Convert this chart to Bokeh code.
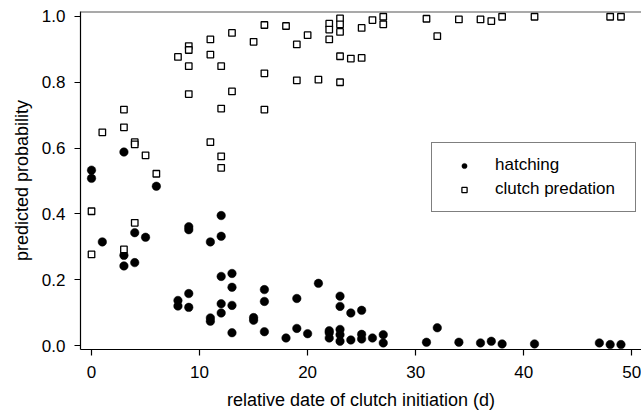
from bokeh.plotting import figure
from bokeh.models import Range1d, Span, Legend, LegendItem, FixedTicker
from bokeh.embed import file_html
from bokeh.resources import INLINE

# hatching (filled circles)
hatch_x = [0, 0, 1, 3, 3, 3, 4, 4, 5, 6,
           8, 8, 9, 9, 9, 9,
           11, 11, 11, 12, 12, 12, 12, 12,
           13, 13, 13, 13,
           15, 15, 16, 16, 16,
           18, 19, 19, 20, 21,
           22, 22, 22,
           23, 23, 23, 23, 23,
           24, 24, 25, 25, 25, 26, 27, 27,
           31, 32, 34, 36, 37, 38, 41, 47, 48, 49]
hatch_y = [0.533, 0.508, 0.315, 0.588, 0.274, 0.242, 0.343, 0.252, 0.329, 0.484,
           0.137, 0.120, 0.361, 0.352, 0.158, 0.116,
           0.315, 0.084, 0.074, 0.395, 0.332, 0.210, 0.127, 0.099,
           0.219, 0.177, 0.122, 0.039,
           0.085, 0.077, 0.170, 0.134, 0.042,
           0.023, 0.143, 0.052, 0.036, 0.189,
           0.045, 0.039, 0.023,
           0.150, 0.119, 0.049, 0.033, 0.013,
           0.099, 0.017, 0.107, 0.034, 0.020, 0.023, 0.033, 0.008,
           0.010, 0.054, 0.010, 0.008, 0.013, 0.005, 0.005, 0.008, 0.003, 0.003]

# clutch predation (open squares)
pred_x = [0, 0, 1, 3, 3, 3, 4, 4, 4, 5, 6,
          8, 9, 9, 9, 9,
          11, 11, 11, 12, 12, 12, 12,
          13, 13, 15, 16, 16, 16,
          18, 19, 19, 20, 21,
          22, 22, 22,
          23, 23, 23, 23, 23,
          24, 25, 25, 26, 27, 27,
          31, 32, 34, 36, 37, 38, 41, 48, 49]
pred_y = [0.408, 0.277, 0.648, 0.717, 0.663, 0.292, 0.618, 0.611, 0.373, 0.578, 0.522,
          0.877, 0.910, 0.898, 0.849, 0.764,
          0.930, 0.884, 0.618, 0.849, 0.720, 0.575, 0.540,
          0.950, 0.772, 0.923, 0.974, 0.827, 0.717,
          0.971, 0.915, 0.806, 0.943, 0.808,
          0.978, 0.960, 0.930,
          0.994, 0.976, 0.953, 0.879, 0.800,
          0.872, 0.965, 0.874, 0.989, 0.999, 0.976,
          0.993, 0.940, 0.991, 0.991, 0.986, 0.999, 0.999, 0.999, 0.999]

x_ticks = [0, 10, 20, 30, 40, 50]
y_ticks = [0.0, 0.2, 0.4, 0.6, 0.8, 1.0]
y_tick_labels = {0.0: "0.0", 0.2: "0.2", 0.4: "0.4", 0.6: "0.6", 0.8: "0.8", 1.0: "1.0"}

FONT = "Liberation Sans"

p = figure(width=641, height=412, output_backend="svg", toolbar_location=None,
           x_range=Range1d(-1.02, 50.9), y_range=Range1d(-0.012, 1.015),
           min_border_left=80, min_border_right=0, min_border_top=11, min_border_bottom=62)

p.grid.visible = False
p.outline_line_color = None
p.background_fill_color = "white"
p.border_fill_color = "white"

for ax in (p.xaxis[0], p.yaxis[0]):
    ax.axis_line_color = "black"
    ax.axis_line_width = 1.2
    ax.major_tick_line_color = "black"
    ax.major_tick_line_width = 1.2
    ax.major_tick_out = 6
    ax.major_tick_in = 0
    ax.minor_tick_line_color = None
    ax.major_label_text_font = FONT
    ax.major_label_text_font_size = "17px"
    ax.major_label_text_color = "black"
    ax.axis_label_text_font = FONT
    ax.axis_label_text_font_size = "18px"
    ax.axis_label_text_font_style = "normal"
    ax.axis_label_text_color = "black"

p.xaxis.ticker = FixedTicker(ticks=x_ticks)
p.yaxis.ticker = FixedTicker(ticks=y_ticks)
p.yaxis.major_label_overrides = y_tick_labels
p.xaxis.axis_label = "relative date of clutch initiation (d)"
p.yaxis.axis_label = "predicted probability"
p.xaxis.major_label_standoff = 10
p.xaxis.axis_label_standoff = 9
p.yaxis.major_label_standoff = 9
p.yaxis.axis_label_standoff = 7

top_line = Span(location=p.y_range.end, dimension="width", line_color="#555555", line_width=2)
p.add_layout(top_line)

r_h = p.scatter(hatch_x, hatch_y, marker="circle", size=8.5,
                fill_color="black", line_color="black", line_width=0.5)
r_p = p.scatter(pred_x, pred_y, marker="square", size=6.5,
                fill_color="white", line_color="black", line_width=1.3)

legend = Legend(items=[LegendItem(label="hatching", renderers=[r_h]),
                       LegendItem(label="clutch predation", renderers=[r_p])],
                location=(351, 137))
legend.border_line_color = "black"
legend.border_line_width = 1
legend.background_fill_color = "white"
legend.background_fill_alpha = 1
legend.label_text_font = FONT
legend.label_text_font_size = "17px"
legend.label_text_color = "black"
legend.padding = 10
legend.spacing = -1
legend.glyph_width = 44
legend.glyph_height = 13
legend.label_height = 24
legend.label_width = 130
legend.label_standoff = 9
legend.margin = 0
p.add_layout(legend)

open("out.html", "w").write(file_html(p, INLINE))
